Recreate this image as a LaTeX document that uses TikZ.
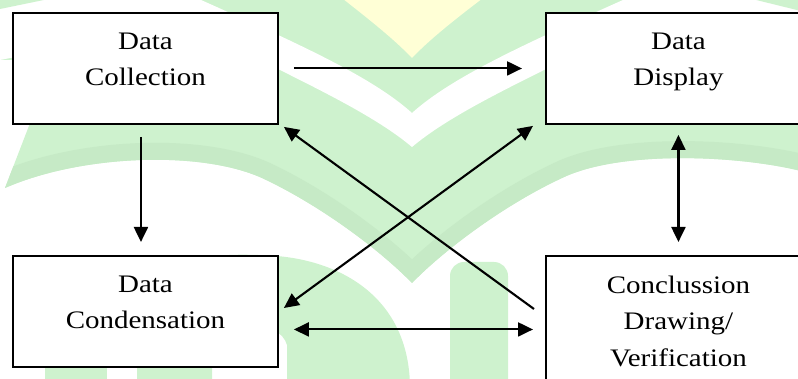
\documentclass[tikz,border=0pt]{standalone}
\usepackage{fontspec}
\setmainfont{Liberation Serif}[FakeStretch=1.15]
\usetikzlibrary{arrows.meta,calc}

\definecolor{wmgreen}{RGB}{206,242,206}
\definecolor{wmdark}{RGB}{198,234,198}
\definecolor{wmyellow}{RGB}{255,255,214}

\begin{document}
\begin{tikzpicture}[x=1pt,y=-1pt,
  box/.style={draw=black, line width=1.9pt, fill=white, minimum width=265pt,
    minimum height=111pt, inner sep=0pt, anchor=north west},
  lbl/.style={font=\fontsize{25.2}{36.5}\selectfont, align=center,
    anchor=north, inner sep=0pt},
  arr/.style={line width=2.1pt, -{Triangle[length=15pt,width=14pt]}},
  biarr/.style={line width=2.1pt,
    {Triangle[length=15pt,width=14pt]}-{Triangle[length=15pt,width=14pt]}}]

% page frame
\path[use as bounding box] (0,0) rectangle (798,379);
\clip (0,0) rectangle (798,379);

% faint emblem behind the diagram
\begin{scope}
  \path[fill=wmgreen, save path=\outerband]
    (0,-5) -- (805,-5) -- (805,172)
    .. controls (740,155) and (620,150) .. (562,178)
    .. controls (504,205) and (444,250) .. (412,283)
    .. controls (380,250) and (320,205) .. (262,178)
    .. controls (200,150) and (80,155) .. (5,188)
    -- (32,118) -- (14,60) -- (0,60) -- cycle;
  \begin{scope}
    \clip[use path=\outerband];
    \draw[wmdark, line width=34pt]
      (805,172)
      .. controls (740,155) and (620,150) .. (562,178)
      .. controls (504,205) and (444,250) .. (412,283)
      .. controls (380,250) and (320,205) .. (262,178)
      .. controls (200,150) and (80,155) .. (5,188);
  \end{scope}
  % white chevron
  \fill[white] (0,-5) -- (190,-5)
    .. controls (290,40) and (370,75) .. (412,113)
    .. controls (454,75) and (534,40) .. (634,-5) -- (805,-5) -- (805,60)
    .. controls (724,40) and (624,32) .. (544,70)
    .. controls (494,95) and (444,120) .. (412,147)
    .. controls (380,120) and (330,95) .. (280,70)
    .. controls (200,32) and (100,40) .. (0,60) -- cycle;
  % corner slivers
  \fill[wmgreen] (0,-5) -- (68,-5) -- (0,9) -- cycle;
  \fill[wmgreen] (805,-5) -- (736,-5) -- (805,12) -- cycle;
  % yellow tip
  \fill[wmyellow] (338,-5) .. controls (370,20) and (395,40) .. (412,58)
    .. controls (429,40) and (454,20) .. (487,-5) -- cycle;
  % lower arches and column
  \fill[wmgreen] (45,340) rectangle (107,385);
  \fill[wmgreen] (137,385) -- (137,300)
    .. controls (150,255) and (220,252) .. (277,256)
    .. controls (345,262) and (408,300) .. (410,385) -- (287,385) -- (287,345)
    .. controls (280,320) and (230,318) .. (212,335) -- (212,385) -- cycle;
  \fill[wmgreen, rounded corners=14pt] (450,395) -- (450,262) -- (508,262)
    -- (508,395) -- cycle;
\end{scope}

% the four stages
\node[box] (dc) at (12,12) {};
\node[box] (dd) at (545,12) {};
\node[box] (dk) at (12,255) {};
\node[box, minimum height=140pt] (dv) at (545,255) {};

\node[lbl] (tdc) at ($(dc.north)+(0,20.5)$) {Data\\Collection};
\node[lbl] (tdd) at ($(dd.north)+(0,20.5)$) {Data\\Display};
\node[lbl] (tdk) at ($(dk.north)+(0,20.5)$) {Data\\Condensation};
\node[lbl] (tdv) at ($(dv.north)+(0,20.5)$) {Conclussion\\Drawing/\\Verification};

% connectors
\draw[arr] ($(dc.east)+(15,0)$) -- ($(dd.west)+(-23,0)$);
\draw[arr] ($(dc.south)+(-4.5,12)$) -- ($(dk.north)+(-4.5,-13)$);
\draw[biarr] ($(dd.south)+(0,10)$) -- ($(dv.north)+(0,-13)$);
\draw[biarr] ($(dk.east)+(15,18)$) -- ($(dk.east -| dv.west)+(-12,18)$);
\draw[arr] ($(dv.north west)+(-11,54)$) -- ($(dc.south east)+(5,2)$);
\draw[biarr] ($(dd.south west)+(-12,1)$) -- ($(dk.north east)+(5,53)$);
\end{tikzpicture}
\end{document}
